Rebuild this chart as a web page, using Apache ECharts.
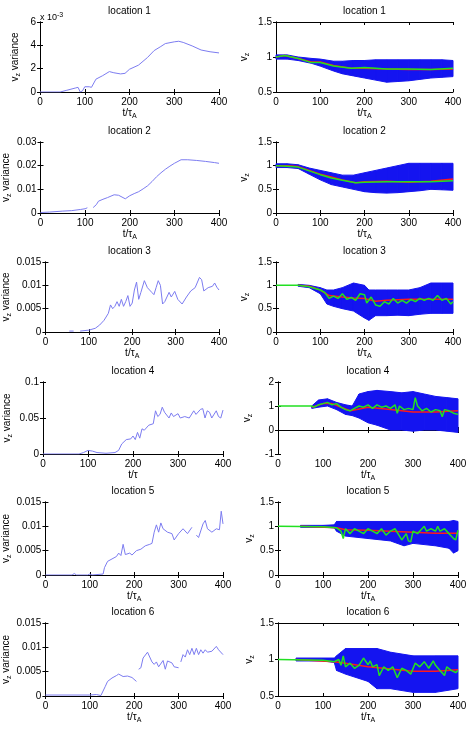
<!DOCTYPE html>
<html>
<head>
<meta charset="utf-8">
<script src="https://cdn.jsdelivr.net/npm/echarts@6/dist/echarts.min.js"></script>
<style>
  html, body { margin: 0; padding: 0; background: #fff; }
  #chart { width: 471px; height: 729px; }
</style>
</head>
<body>
<div id="chart"></div>
<script>
// left column: v_z variance per location
const var1T = [0, 45, 60, 80, 85, 90, 95, 100, 110, 115, 125, 140, 155, 165, 180, 190, 200, 220, 240, 255, 270, 280, 300, 310, 320, 340, 360, 380, 400];
const var1V_e3 = [0, 0, 0.15, 0.35, 0.4, 0, 0.1, 0.45, 0.45, 0.4, 1.1, 1.4, 1.75, 1.65, 1.55, 1.6, 1.95, 2.3, 2.95, 3.55, 3.9, 4.15, 4.3, 4.35, 4.25, 3.95, 3.6, 3.45, 3.35];

const var2T = [0, 20, 50, 70, 90, 100, 105, 110, 118, 125, 130, 140, 150, 165, 175, 190, 200, 210, 220, 230, 240, 250, 260, 270, 280, 290, 300, 315, 330, 350, 370, 390, 400];
const var2V = [0.0002, 0.0004, 0.0008, 0.001, 0.0015, 0.0018, 0.0022, null, 0.0023, 0.0035, 0.005, 0.0058, 0.0065, 0.0077, 0.0075, 0.006, 0.0073, 0.0082, 0.009, 0.0102, 0.0115, 0.0133, 0.0153, 0.017, 0.0185, 0.0198, 0.021, 0.0225, 0.0225, 0.0222, 0.0218, 0.0213, 0.021];

const var3T = [55, 65, 70, 80, 100, 115, 125, 135, 145, 150, 155, 160, 165, 170, 175, 180, 185, 190, 195, 200, 205, 210, 215, 220, 228, 235, 245, 250, 255, 260, 265, 270, 275, 285, 290, 298, 305, 315, 325, 335, 345, 355, 360, 365, 375, 385, 390, 395, 400];
const var3V = [0.0002, 0.0002, null, 0.0002, 0.0004, 0.0008, 0.0015, 0.0025, 0.004, 0.0058, 0.005, 0.0055, 0.0065, 0.0055, 0.007, 0.0055, 0.0065, 0.0078, 0.0055, 0.0062, 0.009, 0.0107, 0.007, 0.0085, 0.011, 0.0095, 0.0085, 0.008, 0.0095, 0.011, 0.01, 0.006, 0.0065, 0.0085, 0.0075, 0.0087, 0.007, 0.006, 0.0075, 0.0088, 0.0095, 0.0117, 0.0112, 0.0088, 0.0095, 0.0098, 0.0105, 0.0096, 0.009];

const var4T = [0, 80, 90, 100, 110, 120, 140, 160, 168, 175, 185, 195, 200, 205, 210, 215, 220, 225, 235, 245, 250, 255, 260, 265, 270, 280, 285, 290, 300, 305, 315, 325, 335, 340, 350, 355, 360, 365, 370, 375, 385, 390, 395, 400];
const var4V = [0, 0, 0.002, 0.005, 0.004, 0.002, 0.001, 0.002, 0.005, 0.014, 0.02, 0.021, 0.025, 0.02, 0.03, 0.022, 0.035, 0.033, 0.04, 0.042, 0.06, 0.052, 0.055, 0.065, 0.058, 0.05, 0.057, 0.052, 0.056, 0.05, 0.052, 0.05, 0.06, 0.055, 0.062, 0.063, 0.05, 0.06, 0.058, 0.05, 0.06, 0.052, 0.05, 0.061];

const var5T = [0, 60, 65, 70, 95, 100, 105, 130, 133, 140, 150, 160, 165, 170, 175, 180, 190, 195, 205, 215, 225, 235, 240, 245, 250, 255, 260, 265, 275, 285, 290, 300, 310, 320, 330, 335, 340, 345, 355, 360, 365, 375, 385, 392, 396, 400];
const var5V = [0, 0, 0.0003, 0, 0, 0.0002, 0, 0.0002, 0.0015, 0.0028, 0.0033, 0.0038, 0.0045, 0.004, 0.0063, 0.0042, 0.0045, 0.0041, 0.005, 0.0053, 0.006, 0.0063, 0.0065, 0.0088, 0.0103, 0.0088, 0.0107, 0.0095, 0.0088, 0.0085, 0.0072, 0.0085, 0.0095, 0.0085, 0.0098, null, 0.0082, 0.0077, 0.0105, 0.0112, 0.0095, 0.0088, 0.0095, 0.0093, 0.0131, 0.0105];

const var6T = [0, 100, 115, 125, 135, 140, 150, 160, 165, 175, 185, 195, 205, 208, 210, 215, 220, 230, 240, 245, 250, 255, 265, 270, 275, 285, 290, 300, 303, 305, 310, 315, 320, 325, 330, 335, 340, 345, 350, 355, 360, 365, 375, 385, 390, 400];
const var6V = [0.0002, 0.0002, 0.0003, 0.0001, 0.002, 0.003, 0.0037, 0.0042, 0.0045, 0.004, 0.0041, 0.0038, 0.003, null, 0.0055, 0.0058, 0.0078, 0.009, 0.007, 0.0065, 0.007, 0.006, 0.0073, 0.0055, 0.0072, 0.0068, 0.006, 0.0058, null, 0.007, 0.0085, 0.008, 0.0095, 0.0085, 0.0098, 0.0085, 0.0098, 0.0085, 0.0095, 0.0088, 0.0095, 0.009, 0.0092, 0.0102, 0.0095, 0.0085];

// right column: ensemble spread (low/high envelope), mean (red), single run (green)
const band1T = [0, 25, 50, 80, 100, 130, 150, 175, 200, 225, 250, 275, 300, 325, 350, 375, 400];
const band1Lo = [0.97, 0.97, 0.95, 0.91, 0.87, 0.8, 0.76, 0.73, 0.7, 0.67, 0.64, 0.65, 0.66, 0.68, 0.7, 0.71, 0.72];
const band1Hi = [1.03, 1.03, 1.0, 0.98, 0.97, 0.94, 0.94, 0.95, 0.95, 0.96, 0.96, 0.96, 0.96, 0.96, 0.96, 0.96, 0.95];
const mean1T = [0, 20, 50, 80, 100, 130, 170, 200, 250, 300, 350, 400];
const mean1V = [1.0, 1.02, 0.98, 0.93, 0.93, 0.88, 0.84, 0.84, 0.83, 0.82, 0.82, 0.83];
const green1V = [1.0, 1.02, 0.98, 0.92, 0.92, 0.87, 0.84, 0.85, 0.83, 0.83, 0.82, 0.84];

const band2T = [0, 25, 50, 75, 100, 125, 150, 175, 200, 225, 250, 275, 300, 325, 350, 375, 400];
const band2Lo = [0.96, 0.96, 0.94, 0.82, 0.7, 0.6, 0.55, 0.5, 0.45, 0.43, 0.42, 0.43, 0.45, 0.47, 0.5, 0.49, 0.48];
const band2Hi = [1.04, 1.04, 1.02, 0.95, 0.9, 0.85, 0.8, 0.8, 0.85, 0.9, 0.95, 1.0, 1.05, 1.05, 1.05, 1.05, 1.05];
const mean2T = [0, 25, 50, 75, 100, 125, 150, 180, 200, 250, 300, 350, 400];
const mean2V = [1.0, 1.0, 0.98, 0.9, 0.82, 0.76, 0.7, 0.64, 0.66, 0.67, 0.65, 0.67, 0.72];
const green2V = [1.0, 0.99, 0.97, 0.89, 0.81, 0.74, 0.69, 0.64, 0.65, 0.66, 0.66, 0.66, 0.68];

const band3T = [50, 75, 100, 115, 130, 150, 175, 200, 210, 225, 250, 275, 300, 325, 350, 375, 400];
const band3Lo = [0.98, 0.95, 0.82, 0.6, 0.55, 0.5, 0.45, 0.3, 0.25, 0.35, 0.35, 0.36, 0.35, 0.38, 0.4, 0.4, 0.4];
const band3Hi = [1.02, 1.0, 0.95, 0.9, 0.9, 0.95, 1.05, 1.0, 0.9, 0.9, 0.9, 0.9, 0.9, 0.95, 1.05, 1.05, 1.05];
const mean3T = [50, 75, 100, 120, 150, 175, 200, 225, 250, 300, 350, 400];
const mean3V = [1.0, 0.98, 0.9, 0.78, 0.75, 0.73, 0.72, 0.66, 0.68, 0.7, 0.7, 0.7];
const green3T = [0, 50, 75, 100, 110, 120, 130, 140, 150, 160, 170, 180, 190, 200, 205, 215, 225, 235, 245, 255, 265, 275, 285, 295, 305, 315, 325, 335, 345, 355, 365, 375, 385, 395, 400];
const green3V = [1.0, 1.0, 0.97, 0.9, 0.85, 0.72, 0.77, 0.72, 0.82, 0.7, 0.74, 0.68, 0.82, 0.8, 0.62, 0.75, 0.58, 0.55, 0.65, 0.6, 0.72, 0.62, 0.68, 0.62, 0.7, 0.65, 0.72, 0.68, 0.72, 0.68, 0.78, 0.68, 0.72, 0.6, 0.65];

const band4T = [75, 90, 110, 130, 150, 165, 180, 200, 220, 250, 275, 300, 325, 350, 375, 400];
const band4Lo = [0.9, 0.95, 1.0, 0.85, 0.65, 0.6, 0.5, 0.3, 0.2, 0.0, 0.0, -0.05, 0.0, 0.0, -0.05, -0.1];
const band4Hi = [1.0, 1.25, 1.3, 1.15, 1.05, 1.0, 1.5, 1.6, 1.65, 1.6, 1.55, 1.6, 1.5, 1.4, 1.35, 1.3];
const mean4T = [75, 100, 120, 140, 160, 175, 200, 250, 300, 350, 400];
const mean4V = [0.95, 1.1, 1.1, 0.95, 0.8, 0.85, 0.95, 0.85, 0.75, 0.75, 0.8];
const green4T = [0, 75, 80, 90, 100, 110, 120, 130, 140, 150, 160, 170, 180, 190, 200, 210, 220, 230, 240, 250, 260, 265, 270, 280, 290, 300, 305, 310, 320, 330, 340, 350, 360, 365, 370, 380, 390, 400];
const green4V = [1.0, 1.0, 0.95, 1.05, 1.1, 1.15, 1.05, 1.1, 0.95, 0.85, 0.8, 0.9, 1.0, 0.95, 1.05, 0.9, 1.05, 0.95, 1.0, 0.9, 1.05, 0.7, 1.0, 0.85, 0.9, 0.85, 1.35, 1.0, 0.8, 0.9, 0.75, 0.85, 0.8, 0.55, 0.85, 0.8, 0.7, 0.65];

const band5T = [50, 100, 125, 130, 150, 200, 250, 280, 300, 350, 380, 390, 400];
const band5Lo = [0.98, 0.98, 0.97, 0.9, 0.8, 0.75, 0.7, 0.6, 0.65, 0.6, 0.55, 0.45, 0.5];
const band5Hi = [1.02, 1.02, 1.03, 1.1, 1.1, 1.1, 1.1, 1.1, 1.1, 1.1, 1.1, 1.12, 1.1];
const mean5T = [50, 130, 150, 200, 250, 300, 350, 400];
const mean5V = [1.0, 0.97, 0.93, 0.92, 0.9, 0.88, 0.86, 0.86];
const green5T = [0, 100, 130, 140, 145, 150, 160, 170, 180, 190, 200, 210, 220, 230, 240, 250, 260, 270, 275, 285, 290, 295, 300, 310, 320, 325, 330, 340, 350, 355, 360, 370, 380, 390, 395, 400];
const green5V = [1.0, 0.99, 0.97, 0.9, 0.75, 0.95, 0.85, 0.95, 0.9, 0.85, 0.95, 0.9, 0.85, 0.95, 0.82, 0.9, 0.95, 0.8, 0.72, 0.85, 0.7, 0.68, 0.9, 0.85, 0.95, 1.0, 0.9, 0.95, 0.9, 1.0, 0.9, 0.95, 0.85, 0.75, 0.72, 0.92];

const band6T = [40, 100, 125, 130, 150, 200, 220, 250, 300, 350, 400];
const band6Lo = [0.98, 0.98, 0.96, 0.85, 0.8, 0.7, 0.6, 0.6, 0.55, 0.55, 0.6];
const band6Hi = [1.02, 1.02, 1.02, 1.05, 1.15, 1.15, 1.15, 1.1, 1.05, 1.05, 1.05];
const mean6T = [40, 125, 150, 200, 250, 300, 350, 400];
const mean6V = [1.0, 0.97, 0.95, 0.9, 0.87, 0.84, 0.84, 0.86];
const green6T = [0, 100, 125, 135, 140, 145, 150, 160, 170, 180, 190, 200, 205, 210, 220, 225, 235, 245, 255, 265, 275, 285, 295, 305, 315, 325, 335, 345, 350, 360, 370, 375, 385, 395, 400];
const green6V = [1.0, 0.99, 0.97, 1.0, 0.92, 1.05, 0.9, 0.95, 0.88, 0.92, 1.02, 0.93, 0.98, 0.9, 0.93, 0.78, 0.9, 0.85, 0.9, 0.75, 0.88, 0.85, 0.8, 0.95, 0.9, 0.97, 0.88, 0.98, 0.92, 0.85, 0.78, 0.9, 0.85, 0.82, 0.85];

const FONT = 'Liberation Sans';
const zip = (t, v) => t.map((x, i) => [x, v[i]]);
const fmt = v => String(+v.toFixed(4));

var grids = [], xAxes = [], yAxes = [], series = [], graphics = [];

// panel geometry (px)
const rowTop = [22, 142, 262, 382, 502, 623];
const rowH = [70, 71, 70, 72, 73, 73];

var addPanel = function(p) {
    let gi = grids.length;
    grids.push({ left: p.left, top: p.top, width: p.width, height: p.height });
    let axLine = { show: true, lineStyle: { color: '#000', width: 1 } };
    let tick = { show: true, inside: true, length: 3, lineStyle: { color: '#000' } };
    let nameStyle = { fontFamily: FONT, fontSize: 10, color: '#000',
        rich: { s: { fontFamily: FONT, fontSize: 7, color: '#000', padding: [6, 0, 0, 0] } } };
    xAxes.push({
        gridIndex: gi, type: 'value', min: 0, max: 400, interval: 100, position: 'bottom',
        axisLine: axLine, axisTick: tick, splitLine: { show: false },
        axisLabel: { fontFamily: FONT, fontSize: 10, color: '#000', margin: 5 },
        name: p.xName, nameLocation: 'middle', nameGap: 15, nameTextStyle: nameStyle
    });
    xAxes.push({
        gridIndex: gi, type: 'value', min: 0, max: 400, interval: 100, position: 'top',
        axisLine: axLine, axisTick: tick, splitLine: { show: false }, axisLabel: { show: false }
    });
    yAxes.push({
        gridIndex: gi, type: 'value', min: p.yMin, max: p.yMax, interval: p.yStep, position: 'left',
        axisLine: axLine, axisTick: tick, splitLine: { show: false },
        axisLabel: { fontFamily: FONT, fontSize: 10, color: '#000', margin: 4, formatter: fmt },
        name: p.yName, nameLocation: 'middle', nameGap: p.yGap, nameTextStyle: nameStyle
    });
    yAxes.push({
        gridIndex: gi, type: 'value', min: p.yMin, max: p.yMax, interval: p.yStep, position: 'right',
        axisLine: axLine, axisTick: tick, splitLine: { show: false }, axisLabel: { show: false }
    });
    graphics.push({
        type: 'text', x: p.left + p.width / 2, y: p.top - 11,
        style: { text: p.title, font: '10px "' + FONT + '"', fill: '#000', align: 'center', verticalAlign: 'middle' }
    });
    return gi;
};

var addLine = function(gi, data, color, width, z) {
    series.push({
        type: 'line', xAxisIndex: gi * 2, yAxisIndex: gi * 2, data: data,
        showSymbol: false, symbol: 'none', connectNulls: false, z: z || 3,
        lineStyle: { color: color, width: width || 1 }, silent: true, animation: false
    });
};

// ensemble envelope: one quad per segment between consecutive samples
var addBand = function(gi, t, lo, hi) {
    let segs = [];
    for (let i = 0; i + 1 < t.length; i++) {
        segs.push([t[i], lo[i], hi[i], t[i + 1], lo[i + 1], hi[i + 1]]);
    }
    series.push({
        type: 'custom', xAxisIndex: gi * 2, yAxisIndex: gi * 2, data: segs, z: 2,
        silent: true, animation: false,
        encode: { x: [0, 3], y: [1, 2, 4, 5] },
        renderItem: function(params, api) {
            let a = api.coord([api.value(0), api.value(1)]);
            let b = api.coord([api.value(0), api.value(2)]);
            let c = api.coord([api.value(3), api.value(5)]);
            let d = api.coord([api.value(3), api.value(4)]);
            return {
                type: 'polygon',
                shape: { points: [a, b, c, d] },
                style: { fill: '#1414f0', stroke: '#1414f0', lineWidth: 1 }
            };
        }
    });
};

const tauA = 't/τ{s|A}';
const leftY = 'v{s|z} variance';
const rightY = 'v{s|z}';

const leftVar = [
    { t: var1T, v: var1V_e3, max: 6, step: 2 },
    { t: var2T, v: var2V, max: 0.03, step: 0.01 },
    { t: var3T, v: var3V, max: 0.015, step: 0.005 },
    { t: var4T, v: var4V, max: 0.1, step: 0.05 },
    { t: var5T, v: var5V, max: 0.015, step: 0.005 },
    { t: var6T, v: var6V, max: 0.015, step: 0.005 }
];
const leftGap = [18, 28, 31, 29, 32, 32];

const rightEns = [
    { bt: band1T, lo: band1Lo, hi: band1Hi, mt: mean1T, mv: mean1V, gt: mean1T, gv: green1V, min: 0.5, max: 1.5, step: 0.5 },
    { bt: band2T, lo: band2Lo, hi: band2Hi, mt: mean2T, mv: mean2V, gt: mean2T, gv: green2V, min: 0, max: 1.5, step: 0.5 },
    { bt: band3T, lo: band3Lo, hi: band3Hi, mt: mean3T, mv: mean3V, gt: green3T, gv: green3V, min: 0, max: 1.5, step: 0.5 },
    { bt: band4T, lo: band4Lo, hi: band4Hi, mt: mean4T, mv: mean4V, gt: green4T, gv: green4V, min: -1, max: 2, step: 1 },
    { bt: band5T, lo: band5Lo, hi: band5Hi, mt: mean5T, mv: mean5V, gt: green5T, gv: green5V, min: 0, max: 1.5, step: 0.5 },
    { bt: band6T, lo: band6Lo, hi: band6Hi, mt: mean6T, mv: mean6V, gt: green6T, gv: green6V, min: 0.5, max: 1.5, step: 0.5 }
];
const rightGap = [25, 25, 25, 24, 22, 22];

for (let r = 0; r < 6; r++) {
    let lowRows = r >= 3;
    let L = leftVar[r];
    let gi = addPanel({
        left: lowRows ? 43 : 40, width: lowRows ? 180 : 179, top: rowTop[r], height: rowH[r],
        yMin: 0, yMax: L.max, yStep: L.step, yName: leftY, yGap: leftGap[r],
        xName: r === 3 ? 't/τ' : tauA, title: 'location ' + (r + 1)
    });
    addLine(gi, zip(L.t, L.v), '#7c7cf0', 1);

    let R = rightEns[r];
    gi = addPanel({
        left: lowRows ? 278 : 276, width: lowRows ? 180 : 177, top: rowTop[r], height: rowH[r],
        yMin: R.min, yMax: R.max, yStep: R.step, yName: rightY, yGap: rightGap[r],
        xName: tauA, title: 'location ' + (r + 1)
    });
    addBand(gi, R.bt, R.lo, R.hi);
    addLine(gi, zip(R.mt, R.mv), '#ff1a1a', 1.5, 4);
    addLine(gi, zip(R.gt, R.gv), '#22e022', 1.5, 5);
}

// exponent marker on first panel
graphics.push({
    type: 'text', x: 40, y: 8,
    style: {
        text: '{a|x 10}{b|-3}', font: '9px "' + FONT + '"', fill: '#000',
        rich: { a: { fontSize: 9, fontFamily: FONT, padding: [5, 0, 0, 0] }, b: { fontSize: 7, fontFamily: FONT } }
    }
});

var myChart = echarts.init(document.getElementById('chart'), null, { renderer: 'canvas' });
myChart.setOption({
    backgroundColor: '#fff',
    animation: false,
    grid: grids,
    xAxis: xAxes,
    yAxis: yAxes,
    series: series,
    graphic: graphics
});
</script>
</body>
</html>
